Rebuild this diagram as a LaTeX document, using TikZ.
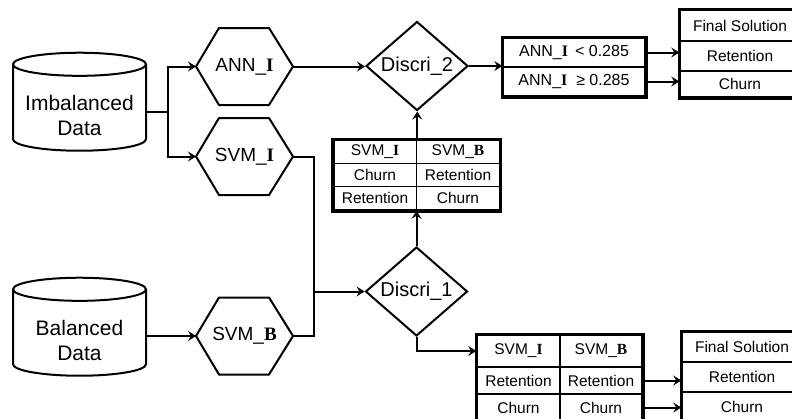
\documentclass[tikz,border=0pt]{standalone}
\usepackage{fontspec}
\setmainfont{Liberation Sans}
\newfontfamily\romanbf{Liberation Serif}
\usetikzlibrary{shapes.geometric,arrows.meta}

\newcommand*{\Ib}{{\romanbf\bfseries I}}
\newcommand*{\Bb}{{\romanbf\bfseries B}}

\begin{document}
\begin{tikzpicture}
[
	x=1pt,y=-1pt,
	line width=2pt,
	store/.style={cylinder,shape border rotate=90,draw,aspect=0.21,minimum width=133pt,minimum height=98pt,inner sep=0pt},
	storetext/.style={align=center,font=\fontsize{21}{25}\selectfont},
	model/.style={minimum width=95pt,minimum height=75pt,inner sep=0pt,font=\fontsize{19}{22}\selectfont},
	decide/.style={diamond,draw,aspect=1.15,minimum width=102pt,minimum height=89pt,inner sep=0pt,font=\fontsize{20}{22}\selectfont},
	cell/.style={draw,line width=1.5pt,inner sep=0pt,font=\fontsize{15.5}{17}\selectfont},
	mcell/.style={cell,minimum width=83pt,minimum height=23.4pt},
	acell/.style={cell,minimum width=142pt,minimum height=29pt,font=\fontsize{16}{18}\selectfont},
	fcell/.style={cell,minimum width=120pt},
	frame/.style={line width=3.5pt},
	arr/.style={-{Stealth[length=8pt,width=10pt,inset=3pt]}}
]
	\clip (0,0) rectangle (792,418);

	% data stores
	\node[store] (imb) at (79.5,108) {\hspace*{110pt}};
	\node[storetext] (imbtxt) at (79.5,115) {Imbalanced\\Data};
	\node[store] (bal) at (79.5,333) {\hspace*{110pt}};
	\node[storetext] (baltxt) at (79.5,340) {Balanced\\Data};

	% classifiers
	\node[model] (anni) at (244.5,66.5) {ANN\_\Ib};
	\node[model] (svmi) at (244.5,156.5) {SVM\_\Ib};
	\node[model] (svmb) at (244.5,336) {SVM\_\Bb};
	\foreach \n in {anni,svmi,svmb}
		\draw[line join=miter] (\n.west) -- ([xshift=23pt]\n.north west) -- ([xshift=-24pt]\n.north east)
			-- (\n.east) -- ([xshift=-24pt]\n.south east) -- ([xshift=23pt]\n.south west) -- cycle;

	% discriminators
	\node[decide] (dtwo) at (417,66) {Discri\_2};
	\node[decide] (done) at (416.5,291.5) {Discri\_1};

	% middle table
	\node[mcell] (m11) at (375,151.7) {SVM\_\Ib};
	\node[mcell] (m12) at (458,151.7) {SVM\_\Bb};
	\node[mcell] (m21) at (375,175) {Churn};
	\node[mcell] (m22) at (458,175) {Retention};
	\node[mcell] (m31) at (375,198.3) {Retention};
	\node[mcell] (m32) at (458,198.3) {Churn};
	\draw[frame] (m11.north west) rectangle (m32.south east);

	% threshold table
	\node[acell] (a1) at (574,52.5) {ANN\_\Ib\ \,< 0.285};
	\node[acell] (a2) at (574,81.5) {ANN\_\Ib\ \ ≥ 0.285};
	\draw[frame] (a1.north west) rectangle (a2.south east);

	% final solution, top
	\node[fcell,minimum height=31pt] (f1) at (740,25.5) {Final Solution};
	\node[fcell,minimum height=30pt] (f2) at (740,56) {Retention};
	\node[fcell,minimum height=26pt] (f3) at (740,84) {Churn};
	\draw[frame] (f1.north west) rectangle (f3.south east);

	% bottom table
	\node[cell,minimum width=83pt,minimum height=32pt] (b11) at (518.5,351) {SVM\_\Ib};
	\node[cell,minimum width=82pt,minimum height=32pt] (b12) at (601,351) {SVM\_\Bb};
	\node[cell,minimum width=83pt,minimum height=27pt] (b21) at (518.5,380.5) {Retention};
	\node[cell,minimum width=82pt,minimum height=27pt] (b22) at (601,380.5) {Retention};
	\node[cell,minimum width=83pt,minimum height=27pt] (b31) at (518.5,407.5) {Churn};
	\node[cell,minimum width=82pt,minimum height=27pt] (b32) at (601,407.5) {Churn};
	\draw[frame] (b11.north west) rectangle (b32.south east);

	% final solution, bottom
	\node[fcell,minimum height=30pt] (g1) at (742,347) {Final Solution};
	\node[fcell,minimum height=30pt] (g2) at (742,377) {Retention};
	\node[fcell,minimum height=30pt] (g3) at (742,407) {Churn};
	\draw[frame] (g1.north west) rectangle (g3.south east);

	% connectors
	\draw[arr] ([yshift=-4pt]imb.east) -- ++(21,0) coordinate (fork) |- (anni.west);
	\draw[arr] (fork) |- (svmi.west);
	\draw[arr] (bal.east |- svmb.west) -- (svmb.west);
	\draw[arr] (anni.east) -- (anni.east -| dtwo.west);
	\coordinate (merge) at (314,291.5);
	\draw (svmi.east) -| (merge) |- (svmb.east);
	\draw[arr] (merge) -- (done.west);
	\draw[arr] (done.north) -- (done.north |- m31.south east);
	\draw[arr] (m11.north east) -- (m11.north east |- dtwo.south);
	\draw[arr] (done.south) |- (b11.west);
	\draw[arr] (dtwo.east) -- (dtwo.east -| a1.west);
	\draw[arr] (a1.east) -- (a1.east -| f2.west);
	\draw[arr] (a2.east) -- (a2.east -| f3.west);
	\draw[arr] (b22.east) -- (b22.east -| g2.west);
	\draw[arr] (b32.east) -- (b32.east -| g3.west);

\end{tikzpicture}
\end{document}
